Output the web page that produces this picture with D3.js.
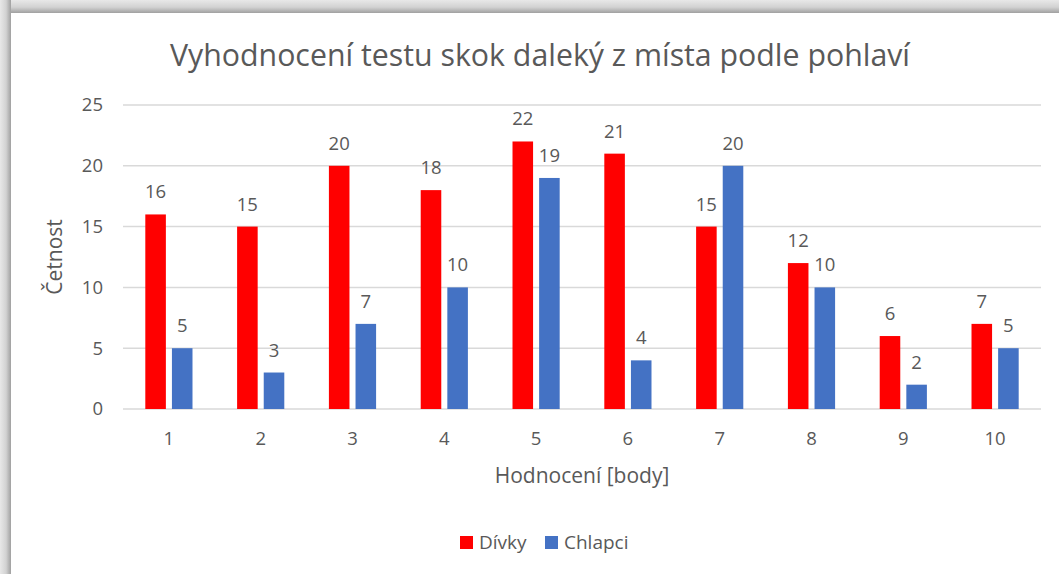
<!DOCTYPE html>
<html>
<head>
<meta charset="utf-8">
<script src="https://cdn.jsdelivr.net/npm/d3@7"></script>
<style>
  body { margin: 0; background: #fff; }
  text { font-family: "Open Sans", "Noto Sans", sans-serif; fill: #595959; }
</style>
</head>
<body>
<div id="chart"></div>
<script>
const categories = ["1", "2", "3", "4", "5", "6", "7", "8", "9", "10"]
const divky = [16, 15, 20, 18, 22, 21, 15, 12, 6, 7]
const chlapci = [5, 3, 7, 10, 19, 4, 20, 10, 2, 5]
const yTicks = [0, 5, 10, 15, 20, 25]
const seriesNames = ["Dívky", "Chlapci"]
const colors = ["#ff0000", "#4472c4"]

const W = 1059, H = 574
const margin = ({top: 105, right: 18, bottom: 165, left: 123})
const width = W - margin.left - margin.right,
    height = H - margin.top - margin.bottom

const root = d3.select("#chart").append("svg")
    .attr("width", W)
    .attr("height", H)

// frame shadow (top and left edge)
const defs = root.append("defs")
const gTop = defs.append("linearGradient").attr("id", "shTop").attr("x1", 0).attr("y1", 0).attr("x2", 0).attr("y2", 1)
gTop.append("stop").attr("offset", "0%").attr("stop-color", "#e8e8e8")
gTop.append("stop").attr("offset", "55%").attr("stop-color", "#d2d2d2")
gTop.append("stop").attr("offset", "100%").attr("stop-color", "#a0a0a0")
const gLeft = defs.append("linearGradient").attr("id", "shLeft").attr("x1", 0).attr("y1", 0).attr("x2", 1).attr("y2", 0)
gLeft.append("stop").attr("offset", "0%").attr("stop-color", "#e8e8e8")
gLeft.append("stop").attr("offset", "55%").attr("stop-color", "#d2d2d2")
gLeft.append("stop").attr("offset", "100%").attr("stop-color", "#a0a0a0")
root.append("rect").attr("x", 0).attr("y", 0).attr("width", W).attr("height", 13).attr("fill", "url(#shTop)")
root.append("rect").attr("x", 0).attr("y", 0).attr("width", 11).attr("height", H).attr("fill", "url(#shLeft)")
root.append("rect").attr("x", 11).attr("y", 13).attr("width", W - 11).attr("height", H - 13).attr("fill", "#fff")

const svg = root.append("g")
    .attr("transform", "translate(" + margin.left + "," + margin.top + ")")

// Scaling
const xScale = d3.scaleBand()
    .domain(categories)
    .range([0, width])
const yScale = d3.scaleLinear()
    .domain([0, 25])
    .range([height, 0])

const bw = xScale.bandwidth() * 0.224
const gap = xScale.bandwidth() * 0.066

// gridlines
svg.append("g")
    .selectAll("line")
    .data(yTicks)
    .join("line")
    .attr("x1", 0)
    .attr("x2", width)
    .attr("y1", d => yScale(d))
    .attr("y2", d => yScale(d))
    .attr("stroke", "#d9d9d9")
    .attr("stroke-width", 1.5)

// Axis
const yAxis = d3.axisLeft(yScale).tickValues(yTicks).tickSize(0).tickPadding(20)
svg.append("g").call(yAxis)
    .call(g => g.select(".domain").remove())
    .selectAll("text")
    .attr("font-size", 18.5)
    .attr("fill", "#595959")

const xAxis = d3.axisBottom(xScale).tickSize(0).tickPadding(23)
svg.append("g")
    .attr("transform", "translate(0," + height + ")")
    .call(xAxis)
    .call(g => g.select(".domain").remove())
    .selectAll("text")
    .attr("font-size", 18.5)
    .attr("fill", "#595959")

const series = [divky, chlapci]
series.forEach((vals, si) => {
    const off = si === 0 ? -gap / 2 - bw : gap / 2
    const g = svg.append("g")
    g.selectAll("rect")
        .data(vals)
        .join("rect")
        .attr("x", (d, i) => xScale(categories[i]) + xScale.bandwidth() / 2 + off)
        .attr("y", d => yScale(d))
        .attr("width", bw)
        .attr("height", d => height - yScale(d))
        .attr("fill", colors[si])
    g.selectAll("text")
        .data(vals)
        .join("text")
        .attr("x", (d, i) => xScale(categories[i]) + xScale.bandwidth() / 2 + off + bw / 2)
        .attr("y", d => yScale(d) - 16)
        .attr("text-anchor", "middle")
        .attr("font-size", 18.5)
        .text(d => d)
})

// title
root.append("text")
    .attr("x", 540)
    .attr("y", 66)
    .attr("text-anchor", "middle")
    .attr("font-size", 30.3)
    .text("Vyhodnocení testu skok daleký z místa podle pohlaví")

// axis titles
root.append("text")
    .attr("transform", "translate(" + 62 + "," + (margin.top + height / 2) + ") rotate(-90)")
    .attr("text-anchor", "middle")
    .attr("font-size", 21)
    .text("Četnost")

root.append("text")
    .attr("x", margin.left + width / 2)
    .attr("y", 483)
    .attr("text-anchor", "middle")
    .attr("font-size", 21)
    .text("Hodnocení [body]")

// legend
const legend = root.append("g").attr("transform", "translate(460,542)")
const items = [{x: 0}, {x: 85}]
seriesNames.forEach((name, i) => {
    legend.append("rect")
        .attr("x", items[i].x)
        .attr("y", -6)
        .attr("width", 13)
        .attr("height", 13)
        .attr("fill", colors[i])
    legend.append("text")
        .attr("x", items[i].x + 19)
        .attr("y", 7)
        .attr("font-size", 19)
        .text(name)
})
</script>
</body>
</html>
